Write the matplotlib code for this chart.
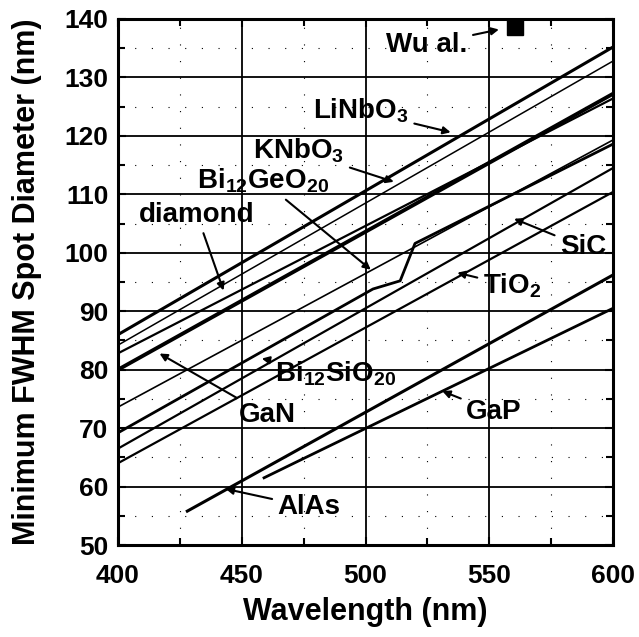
import matplotlib
matplotlib.use("Agg")
import matplotlib.pyplot as plt
import numpy as np

# data (wavelength nm, spot diameter nm)
lin_x = [400, 600]
lin_y = [86.0, 135.2]
knb_x = [400, 600]
knb_y = [84.2, 132.8]
dia_x = [400, 600]
dia_y = [82.8, 126.4]
gan_x = [400, 600]
gan_y = [80.0, 127.2]
bgo_x = [400, 600]
bgo_y = [73.6, 119.3]
bso_x = [400, 503, 514, 520, 600]
bso_y = [69.2, 93.8, 95.2, 101.6, 118.6]
sic_x = [400, 600]
sic_y = [66.5, 114.5]
tio_x = [400, 600]
tio_y = [64.0, 110.4]
alas_x = [428, 600]
alas_y = [55.8, 96.2]
gap_x = [459, 474, 600]
gap_y = [61.5, 64.6, 90.5]
wu_x = [560.5]
wu_y = [138.6]

plt.rcParams['font.family'] = ['Liberation Sans', 'DejaVu Sans']
plt.rcParams['font.weight'] = 'bold'
plt.rcParams['mathtext.fontset'] = 'custom'
plt.rcParams['mathtext.rm'] = 'Liberation Sans:bold'
plt.rcParams['mathtext.it'] = 'Liberation Sans:bold'

fig = plt.figure(figsize=(6.39, 6.37), dpi=100)
ax = fig.add_axes([0.1847, 0.1444, 0.7746, 0.8258])

# lines
ax.plot(lin_x, lin_y, color='black', lw=2.2)
ax.plot(knb_x, knb_y, color='black', lw=1.1)
ax.plot(dia_x, dia_y, color='black', lw=1.6)
ax.plot(gan_x, gan_y, color='black', lw=2.8)
ax.plot(bgo_x, bgo_y, color='black', lw=1.2)
ax.plot(bso_x, bso_y, color='black', lw=2.0)
ax.plot(sic_x, sic_y, color='black', lw=1.6)
ax.plot(tio_x, tio_y, color='black', lw=1.6)
ax.plot(alas_x, alas_y, color='black', lw=2.2)
ax.plot(gap_x, gap_y, color='black', lw=2.0)
ax.plot(wu_x, wu_y, marker='s', color='black', markersize=11, ls='none')

ax.set_xlim(400, 600)
ax.set_ylim(50, 140)
ax.set_xticks(np.arange(400, 601, 50))
ax.set_yticks(np.arange(50, 141, 10))
ax.set_xticks(np.arange(425, 600, 50), minor=True)
ax.set_yticks(np.arange(55, 140, 10), minor=True)
ax.grid(True, which='major', color='black', lw=1.3)
ax.grid(True, which='minor', color='black', lw=0.8, ls=(0, (1, 14)))
ax.tick_params(which='both', direction='in', top=True, right=True, labelsize=19)
ax.tick_params(which='major', length=6, width=1.5)
ax.tick_params(which='minor', length=5, width=1.5)
ax.tick_params(axis='x', which='major', pad=14)
ax.tick_params(axis='y', which='major', pad=7)
for s in ax.spines.values():
    s.set_linewidth(2.2)

ax.set_xlabel('Wavelength (nm)', fontsize=22, fontweight='bold', labelpad=6)
ax.set_ylabel('Minimum FWHM Spot Diameter (nm)', fontsize=22, fontweight='bold', labelpad=16)

# labels with pointer lines
ap = dict(arrowstyle='-|>', color='black', lw=1.5, mutation_scale=11)
fs = 20
ax.annotate('Wu al.', xy=(555, 138.3), xytext=(524.8, 135.6), fontsize=fs,
            ha='center', va='center', arrowprops=ap)
ax.annotate('LiNbO$_3$', xy=(535.5, 120.5), xytext=(498.2, 124.3), fontsize=fs,
            ha='center', va='center', arrowprops=ap)
ax.annotate('KNbO$_3$', xy=(512.5, 112), xytext=(473.1, 117.4), fontsize=fs,
            ha='center', va='center', arrowprops=ap)
ax.annotate('Bi$_{12}$GeO$_{20}$', xy=(503, 96.8), xytext=(458.6, 112.3), fontsize=fs,
            ha='center', va='center', arrowprops=ap)
ax.annotate('diamond', xy=(443, 93.1), xytext=(431.9, 106.5), fontsize=fs,
            ha='center', va='center', arrowprops=ap)
ax.annotate('SiC', xy=(559, 106), xytext=(587.9, 101.0), fontsize=fs,
            ha='center', va='center', arrowprops=ap)
ax.annotate('TiO$_2$', xy=(536, 96.7), xytext=(559.2, 94.3), fontsize=fs,
            ha='center', va='center', arrowprops=ap)
ax.annotate('Bi$_{12}$SiO$_{20}$', xy=(457, 82), xytext=(488.1, 79.3), fontsize=fs,
            ha='center', va='center', arrowprops=ap)
ax.annotate('GaN', xy=(415.8, 83), xytext=(460.2, 72.2), fontsize=fs,
            ha='center', va='center', arrowprops=ap)
ax.annotate('GaP', xy=(530, 76.5), xytext=(551.9, 72.8), fontsize=fs,
            ha='center', va='center', arrowprops=ap)
ax.annotate('AlAs', xy=(442.4, 59.7), xytext=(477.2, 56.5), fontsize=fs,
            ha='center', va='center', arrowprops=ap)

fig.savefig('out.png', dpi=100)
